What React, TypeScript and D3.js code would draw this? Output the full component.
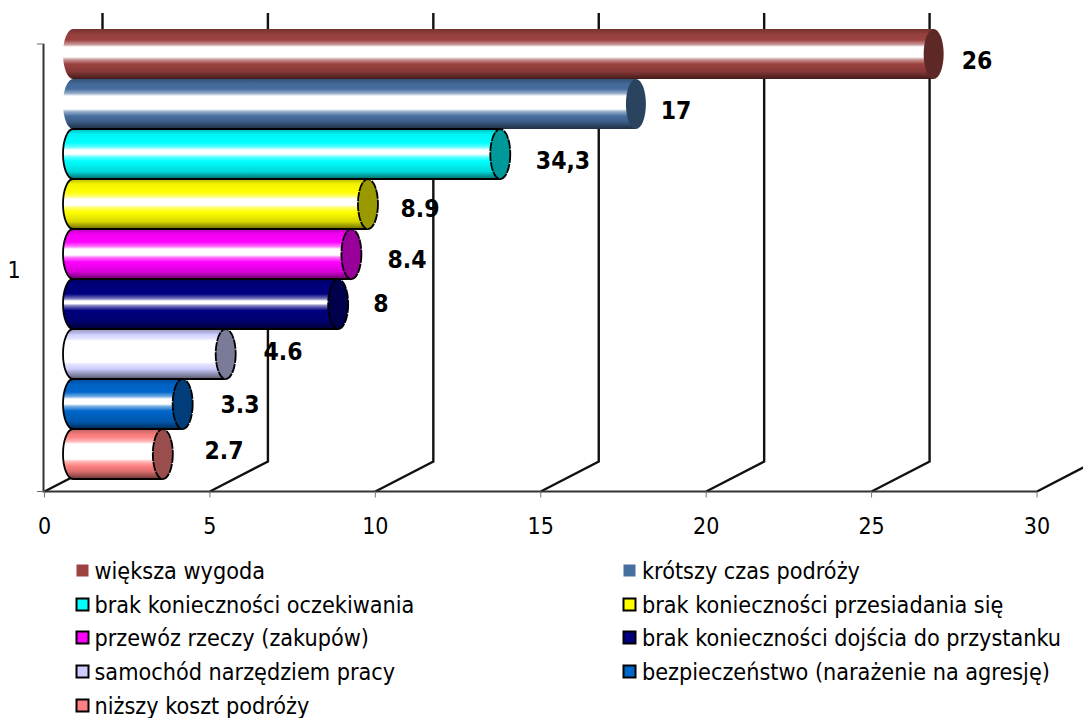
import React from "react";
import * as d3 from "d3";

const categories = [
  "większa wygoda",
  "krótszy czas podróży",
  "brak konieczności oczekiwania",
  "brak konieczności przesiadania się",
  "przewóz rzeczy (zakupów)",
  "brak konieczności dojścia do przystanku",
  "samochód narzędziem pracy",
  "bezpieczeństwo (narażenie na agresję)",
  "niższy koszt podróży",
];
const values = [26, 17, 12.9, 8.9, 8.4, 8, 4.6, 3.3, 2.7];
const valueLabels = ["26", "17", "34,3", "8.9", "8.4", "8", "4.6", "3.3", "2.7"];
const colors = ["#9c4240", "#466f9f", "#00ffff", "#ffff00", "#ff00ff", "#000080", "#ccccff", "#0066cc", "#ff8080"];
const outlined = [false, false, true, true, true, true, true, true, true];
const xTicks = [0, 5, 10, 15, 20, 25, 30];
const labelX = [977, 676, 563, 420, 407, 381, 283, 240, 224];
const labelY = [60, 110, 160, 208, 259, 303, 351, 404, 450];
const bandLo = [0.36, 0.34, 0.42, 0.4, 0.4, 0.44, 0.24, 0.4, 0.3];
const bandHi = [0.56, 0.6, 0.5, 0.52, 0.52, 0.49, 0.66, 0.5, 0.6];

const FONT = "'DejaVu Sans Condensed','DejaVu Sans',sans-serif";
const W = 1083, H = 718;
const x = d3.scaleLinear().domain([0, 30]).range([44.5, 1037]);
const y = d3.scaleBand<string>().domain(categories).range([29, 479]).paddingInner(0).paddingOuter(0);
const floorY = 491.5, axisTop = 44;
const wallDX = 58, wallDY = -30, wallTop = 13;
const barDX = 29, rx = 10;

const shade = (c: string, k: number) => {
  const r = d3.rgb(c);
  return d3.rgb(r.r * k, r.g * k, r.b * k).formatHex();
};
const tint = (c: string, t: number) => d3.rgb(d3.interpolateRgb(c, "#ffffff")(t)).formatHex();
const mkStops = (i: number): [number, string][] => {
  const c = colors[i];
  return [
    [0, shade(c, 0.74)],
    [0.1, shade(c, 0.95)],
    [bandLo[i] - 0.14, c],
    [bandLo[i] - 0.05, tint(c, 0.45)],
    [bandLo[i], "#ffffff"],
    [bandHi[i], "#ffffff"],
    [bandHi[i] + 0.05, tint(c, 0.45)],
    [bandHi[i] + 0.14, c],
    [0.85, shade(c, 0.85)],
    [1, shade(c, 0.42)],
  ];
};

export default function App() {
  const legendRows = [571, 605, 638, 672, 706];
  return (
    <svg width={W} height={H} viewBox={`0 0 ${W} ${H}`} style={{ position: "absolute", left: 0, top: 0, display: "block", background: "#fff" }} fontFamily={FONT}>
      <defs>
        {colors.map((c, i) => (
          <linearGradient key={i} id={`g${i}`} x1="0" y1="0" x2="0" y2="1">
            {mkStops(i).map(([o, col], j) => (
              <stop key={j} offset={o} stopColor={col} />
            ))}
          </linearGradient>
        ))}
      </defs>

      {/* walls */}
      {xTicks.map((t) => {
        const px = x(t);
        return (
          <path key={t} d={`M${px},${floorY} L${px + wallDX},${floorY + wallDY} L${px + wallDX},${wallTop}`} fill="none" stroke="#111" strokeWidth={2.4} />
        );
      })}
      {/* axes */}
      <path d={`M${x(0) - 1},${axisTop} V${floorY} H${x(30)}`} fill="none" stroke="#333" strokeWidth={2} />
      <path d={`M37,${axisTop} H${x(0)} M37,${floorY} H${x(0)}`} fill="none" stroke="#666" strokeWidth={1} />
      {xTicks.map((t) => (
        <line key={t} x1={x(t)} x2={x(t)} y1={floorY} y2={floorY + 6} stroke="#777" strokeWidth={1} />
      ))}
      {xTicks.map((t) => (
        <text key={t} x={x(t)} y={534} textAnchor="middle" fontSize={23} fill="#000">{t}</text>
      ))}
      <text x={14} y={278} textAnchor="middle" fontSize={23} fill="#000">1</text>

      {/* bars */}
      {categories.map((cat, i) => {
        const top = y(cat)!, h = y.bandwidth(), bot = top + h, ry = h / 2;
        const x0 = x(0) + barDX - 0.5, x1 = x(values[i]) + barDX;
        const s = outlined[i] ? "#000" : "none";
        return (
          <g key={cat}>
            <path d={`M${x0},${top} L${x1},${top} L${x1},${bot} L${x0},${bot} A${rx},${ry} 0 0 1 ${x0},${top} Z`} fill={`url(#g${i})`} />
            {outlined[i] && (
              <path d={`M${x1},${top} L${x0},${top} A${rx},${ry} 0 0 0 ${x0},${bot} L${x1},${bot}`} fill="none" stroke={s} strokeWidth={1.8} />
            )}
            <ellipse cx={x1} cy={top + ry} rx={rx} ry={ry} fill={shade(colors[i], 0.6)} stroke={s} strokeWidth={1.8} strokeDasharray={outlined[i] ? "9 1" : undefined} />
          </g>
        );
      })}

      {/* value labels */}
      {valueLabels.map((l, i) => (
        <text key={i} x={labelX[i]} y={labelY[i] + 8.5} textAnchor="middle" fontSize={24.5} fontWeight="bold" fill="#000">{l}</text>
      ))}

      {/* legend */}
      {categories.map((cat, i) => {
        const col = i % 2, row = Math.floor(i / 2);
        const sx = col === 0 ? 76 : 623, ty = legendRows[row];
        return (
          <g key={cat}>
            <rect x={sx + 0.5} y={ty - 6.5} width={12} height={12} fill={colors[i]} stroke={outlined[i] ? "#000" : "none"} strokeWidth={2} />
            <text x={sx + (col === 0 ? 18.5 : 19)} y={ty + 8} fontSize={23.2} fill="#000">{cat}</text>
          </g>
        );
      })}
    </svg>
  );
}
